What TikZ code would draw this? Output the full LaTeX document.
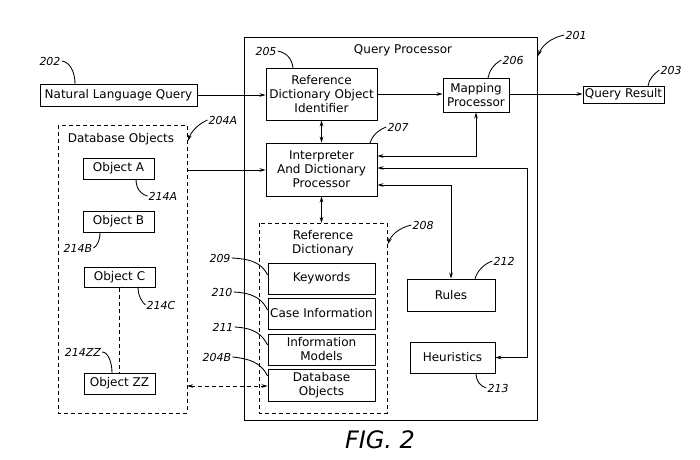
\documentclass[tikz,border=0pt]{standalone}
\usepackage{fontspec}
\setmainfont{DejaVu Sans}
\usetikzlibrary{arrows.meta}
\begin{document}
\begin{tikzpicture}[x=1pt,y=-1pt,
  >={Stealth[length=6pt,width=3.6pt,inset=2pt]},
  lw/.style={line width=0.85pt},
  txt/.style={font=\fontsize{12}{14}\selectfont},
  box/.style={draw,lw,inner sep=0pt,align=center,txt},
  dbox/.style={draw,lw,dash pattern=on 4pt off 3pt},
  lbl/.style={font=\fontsize{11}{13}\selectfont\itshape,inner sep=1pt},
  lead/.style={lw},
  conn/.style={lw}]
\useasboundingbox (0,0) rectangle (700,459);
% outer query processor
\draw[lw] (244,37) rectangle (537,420);
\node[txt] (qptitle) at (403,50) {Query Processor};
% dashed containers
\draw[dbox] (58,125) rectangle (187,413);
\coordinate (dboE) at (187,170);
\node[txt] (dbotitle) at (121,139) {Database Objects};
\draw[dbox] (259,223) rectangle (387,413);
\node[txt,align=center] (rdtitle) at (323,243) {Reference\\Dictionary};
% boxes
\node[box,minimum width=157pt,minimum height=22pt] (nlq) at (118.5,95) {Natural Language Query};
\node[box,minimum width=111pt,minimum height=52pt] (rdoi) at (321.5,94) {Reference\\Dictionary Object\\Identifier};
\node[box,minimum width=66pt,minimum height=34pt] (map) at (476,95) {Mapping\\Processor};
\node[box,minimum width=81pt,minimum height=17pt] (qr) at (623.5,94.5) {Query Result};
\node[box,minimum width=111pt,minimum height=53pt] (interp) at (321.5,169.5) {Interpreter\\And Dictionary\\Processor};
\node[box,minimum width=88pt,minimum height=32pt] (rules) at (451,295) {Rules};
\node[box,minimum width=85pt,minimum height=31pt] (heur) at (452.5,357.5) {Heuristics};
\node[box,minimum width=71pt,minimum height=21pt] (objA) at (118.5,168.5) {Object A};
\node[box,minimum width=71pt,minimum height=21pt] (objB) at (118.5,221.5) {Object B};
\node[box,minimum width=71pt,minimum height=20pt] (objC) at (119.5,277.5) {Object C};
\node[box,minimum width=71pt,minimum height=21pt] (objZZ) at (119.5,383.5) {Object ZZ};
\node[box,minimum width=107pt,minimum height=31pt] (kw) at (321.5,278.5) {Keywords};
\node[box,minimum width=107pt,minimum height=31pt] (ci) at (321.5,313.5) {Case Information};
\node[box,minimum width=107pt,minimum height=31pt] (im) at (321.5,349.5) {Information\\Models};
\node[box,minimum width=107pt,minimum height=32pt] (dbo2) at (321.5,385) {Database\\Objects};
% connectors
\draw[conn,->] (nlq.east) -- (nlq.east -| rdoi.west);
\draw[conn,->] (rdoi.east |- 0,94) -- (map.west |- 0,94);
\draw[conn,->] (map.east |- 0,94) -- (qr.west |- 0,94);
\draw[conn,<->] (rdoi.south) -- (interp.north);
\draw[conn,<->] (interp.east |- 0,156) -| (map.south);
\coordinate (hturn) at (527,168);
\draw[conn,<->] (interp.east |- hturn) -- (hturn) |- (heur.east);
\draw[conn,<->] (interp.east |- 0,185) -| (rules.north);
\draw[conn,->] (dboE) -- (interp.west |- dboE);
\draw[conn,<->] (interp.south) -- (interp.south |- 0,223);
\coordinate (dboZ) at (187,386);
\draw[conn,<->,dash pattern=on 4pt off 3pt] (dboZ) -- (dbo2.west |- dboZ);
\draw[lw,dash pattern=on 4pt off 3pt] (objC.south) -- (objZZ.north -| objC.south);
% reference labels
\node[lbl] (l202) at (50,61) {202};
\draw[lead] (l202.east) .. controls (70,62) and (75,72) .. (75,84);
\node[lbl] (l201) at (576,35) {201};
\draw[lead,->] (l201.west) .. controls (550,38) and (542,46) .. (538,56);
\node[lbl] (l205) at (266,51) {205};
\draw[lead] (l205.east) .. controls (288,53) and (292,60) .. (293,68);
\node[lbl] (l206) at (513,60) {206};
\draw[lead] (l206.west) .. controls (494,64) and (489,71) .. (488,78);
\node[lbl] (l203) at (671,70) {203};
\draw[lead] (l203.west) .. controls (654,74) and (649,79) .. (648,86);
\node[lbl] (l207) at (398,127) {207};
\draw[lead] (l207.west) .. controls (378,130) and (372,136) .. (370,143);
\node[lbl] (l204A) at (223,120) {204A};
\draw[lead,->] (l204A.west) .. controls (198,124) and (191,132) .. (188,141);
\node[lbl] (l208) at (423,225) {208};
\draw[lead,->] (l208.west) .. controls (398,228) and (391,236) .. (388,244);
\node[lbl] (l212) at (504,261) {212};
\draw[lead] (l212.west) .. controls (484,264) and (477,271) .. (475,279);
\node[lbl] (l213) at (498,388) {213};
\draw[lead] (476,373) .. controls (476,381) and (480,386) .. (l213.west);
\node[lbl] (l214A) at (163,196) {214A};
\draw[lead] (136,179) .. controls (136,188) and (140,194) .. (l214A.west);
\node[lbl] (l214B) at (78,248) {214B};
\draw[lead] (100,232) .. controls (100,241) and (97,246) .. (l214B.east);
\node[lbl] (l214C) at (161,305) {214C};
\draw[lead] (138,287) .. controls (138,296) and (142,302) .. (l214C.west);
\node[lbl] (l214ZZ) at (83,352) {214ZZ};
\draw[lead] (l214ZZ.east) .. controls (108,352) and (112,362) .. (112,373);
\node[lbl] (l209) at (220,258) {209};
\draw[lead] (l209.east) .. controls (256,259) and (263,266) .. (kw.west |- 0,275);
\node[lbl] (l210) at (222,292) {210};
\draw[lead] (l210.east) .. controls (256,293) and (263,301) .. (ci.west |- 0,310);
\node[lbl] (l211) at (223,327) {211};
\draw[lead] (l211.east) .. controls (256,328) and (263,336) .. (im.west |- 0,345);
\node[lbl] (l204B) at (217,357) {204B};
\draw[lead] (l204B.east) .. controls (256,359) and (263,367) .. (dbo2.west |- 0,376);
% figure caption
\node[font=\fontsize{24}{26}\selectfont\itshape] (fig) at (380,440) {FIG.\ 2};
\end{tikzpicture}
\end{document}
